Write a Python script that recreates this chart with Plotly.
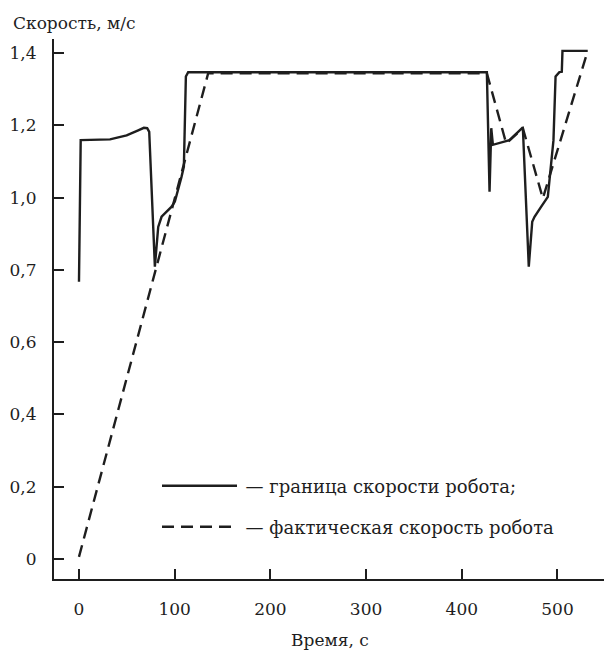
import plotly.graph_objects as go

# Speed limit of the robot (solid line)
limit_t = [0, 1.8, 32.4, 49.8, 61.9, 67.8, 71.3, 73.4, 79.3, 82.8, 86.3, 91.5, 96.8,
           100.2, 103.7, 107.2, 109.6, 111.7, 114.1, 426.2, 429.0, 430.8, 432.5,
           449.9, 463.8, 470.0, 473.6, 476.0, 483.0, 489.9, 495.8, 498.0, 502.0,
           504.5, 505.2, 531.6]
limit_v = [0.767, 1.159, 1.161, 1.172, 1.186, 1.193, 1.192, 1.182, 0.809, 0.919,
           0.947, 0.961, 0.975, 0.989, 1.021, 1.058, 1.086, 1.335, 1.347, 1.347,
           1.016, 1.192, 1.146, 1.159, 1.194, 0.809, 0.933, 0.947, 0.975, 1.002,
           1.159, 1.335, 1.347, 1.348, 1.406, 1.406]

# Actual robot speed (dashed line)
actual_t = [0, 135.0, 426.2, 446.4, 463.8, 484.7, 531.6]
actual_v = [0.006, 1.344, 1.344, 1.150, 1.192, 0.998, 1.406]

y_ticks = [0, 0.2, 0.4, 0.6, 0.8, 1.0, 1.2, 1.4]
y_tick_text = ["0", "0,2", "0,4", "0,6", "0,7", "1,0", "1,2", "1,4"]
x_ticks = [0, 100, 200, 300, 400, 500]

INK = "#1e1e1e"
FONT = "DejaVu Serif"
TEXT_SIZE = 17
LEGEND_SIZE = 18

fig = go.Figure()
fig.add_trace(go.Scatter(
    x=limit_t, y=limit_v, mode="lines",
    line=dict(color=INK, width=2.4),
    name="\u2009— граница скорости робота;", legend="legend",
))
fig.add_trace(go.Scatter(
    x=actual_t, y=actual_v, mode="lines",
    line=dict(color=INK, width=2.4, dash="12px,7px"),
    name="\u2009— фактическая скорость робота", legend="legend2",
))

axis_common = dict(
    showline=True, linewidth=2, linecolor=INK,
    ticks="inside", ticklen=10, tickwidth=1.5, tickcolor=INK,
    showgrid=False, zeroline=False,
    tickfont=dict(family=FONT, size=TEXT_SIZE, color=INK),
)

legend_common = dict(
    xanchor="left", yanchor="middle",
    bgcolor="rgba(0,0,0,0)", borderwidth=0,
    font=dict(family=FONT, size=LEGEND_SIZE, color=INK),
    itemwidth=75,
)

fig.update_layout(
    width=604, height=653,
    margin=dict(l=54, r=0, t=39, b=74),
    paper_bgcolor="white", plot_bgcolor="white",
    font=dict(family=FONT, size=TEXT_SIZE, color=INK),
    xaxis=dict(range=[-26.1, 548.6], tickvals=x_ticks, ticklabelstandoff=14,
               **axis_common),
    yaxis=dict(range=[-0.0553, 1.4388], tickvals=y_ticks, ticktext=y_tick_text,
               ticklabelstandoff=12, **axis_common),
    showlegend=True,
    legend=dict(x=(157 - 54) / 550, y=(579 - 486) / 540, **legend_common),
    legend2=dict(x=(157 - 54) / 550, y=(579 - 527) / 540, **legend_common),
    annotations=[
        dict(text="Скорость, м/с", xref="paper", yref="paper",
             x=-54 / 550, y=(579 - 23) / 540, xanchor="left", yanchor="middle",
             showarrow=False, xshift=11,
             font=dict(family=FONT, size=TEXT_SIZE, color=INK)),
        dict(text="Время, с", xref="paper", yref="paper",
             x=(330 - 54) / 550, y=(579 - 640) / 540, xanchor="center",
             yanchor="middle", showarrow=False,
             font=dict(family=FONT, size=TEXT_SIZE, color=INK)),
    ],
)

fig.write_html("out.html")
